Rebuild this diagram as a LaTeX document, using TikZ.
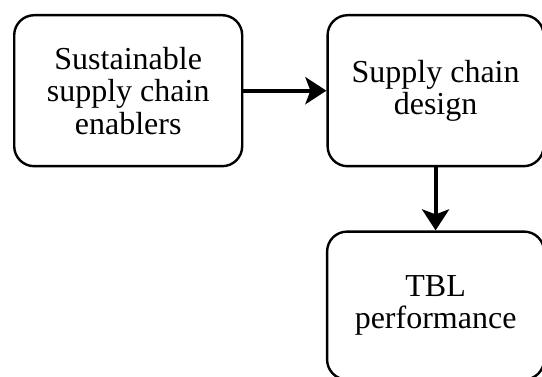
\documentclass[tikz,border=0pt]{standalone}
\usepackage{fontspec}
\setmainfont{Liberation Serif}
\usepackage{tikz}
\usetikzlibrary{positioning,
                arrows.meta}

\begin{document}
\begin{tikzpicture}[
  node distance = 83pt,
  box/.style = {draw, line width=2.4pt, rounded corners=20pt,
      align=center, inner sep=0pt,
      font=\fontsize{32}{32.5}\selectfont},
  every edge/.style = {draw, -{Stealth[length=21pt, width=27pt, inset=5pt]},
      line width=4pt}
  ]
  \useasboundingbox (0,0) rectangle (542pt,-377pt);
  \node[box, minimum width=228pt, minimum height=151pt, anchor=north west]
    (enablers) at (13pt,-14pt) {Sustainable\\ supply chain\\ enablers};
  \node[box, minimum width=216pt, minimum height=151pt, right=of enablers]
    (design) {Supply chain\\ design};
  \node[box, minimum width=217pt, minimum height=148pt, below=63pt of design.south,
    anchor=north] (tbl) {TBL\\ performance};
  %
  \draw (enablers) edge (design)
        (design) edge (tbl);
\end{tikzpicture}
\end{document}
